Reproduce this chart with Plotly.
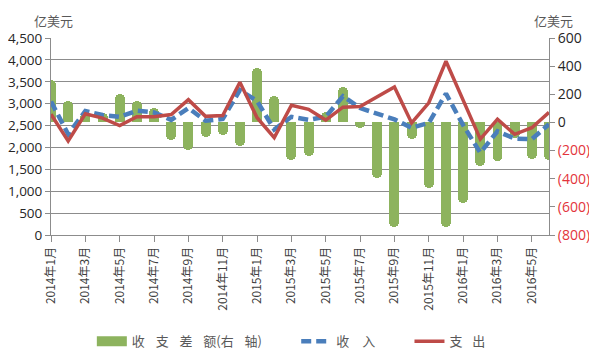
import plotly.graph_objects as go

months = [f"{y}年{m}月" for y, m in
          [(2014, m) for m in range(1, 13)] + [(2015, m) for m in range(1, 13)] + [(2016, m) for m in range(1, 7)]]

income = [3050, 2300, 2830, 2740, 2700, 2840, 2800, 2630, 2900, 2610,
          2650, 3310, 3060, 2410, 2700, 2630, 2700, 3170, 2900, 2760,
          2640, 2450, 2560, 3230, 2510, 1880, 2370, 2200, 2190, 2530]
expense = [2760, 2150, 2770, 2670, 2500, 2700, 2700, 2750, 3090, 2710,
           2730, 3490, 2680, 2225, 2965, 2870, 2625, 2920, 2935, 3160,
           3380, 2560, 3020, 3970, 3080, 2190, 2645, 2300, 2450, 2800]
balance = [300, 150, 65, 70, 205, 150, 100, -125, -195, -100,
           -90, -165, 390, 185, -265, -240, 75, 255, -40, -395,
           -740, -120, -465, -745, -575, -310, -275, -110, -260, -265]

left_ticks = list(range(0, 4501, 500))
right_ticks = [600, 400, 200, 0, -200, -400, -600, -800]

FONT = "Open Sans, Noto Sans CJK SC, sans-serif"
CJK = "Noto Sans CJK SC, sans-serif"
GRID = "#8C8C8C"
GREEN = "#8DB35E"
G1 = "\u2002\u2004"          # gap between legend glyphs
TRAIL = "\u2003\u2003\u2005"  # space after a legend entry

def rlabel(v):
    if v < 0:
        return f"<span style='color:#E3343B'>({abs(v)})</span>"
    return str(v)

fig = go.Figure()
fig.add_trace(go.Bar(
    x=months, y=balance, name="收支差额(右轴)", showlegend=False,
    marker=dict(color=GREEN, cornerradius=5, line=dict(width=0)),
    width=0.58, xaxis="x", yaxis="y",
))
# legend key for the balance bars (no data, legend only)
fig.add_trace(go.Scatter(
    x=[None], y=[None], mode="lines",
    name="收" + G1 + "支" + G1 + "差" + G1 + "额(右" + G1 + "轴)" + TRAIL,
    line=dict(color=GREEN, width=16), xaxis="x", yaxis="y",
))
fig.add_trace(go.Scatter(
    x=months, y=income, name="收\u2003入" + TRAIL, mode="lines",
    line=dict(color="#4A7EBB", width=4.5, dash="10px,5px"),
    xaxis="x", yaxis="y2",
))
fig.add_trace(go.Scatter(
    x=months, y=expense, name="支\u2002\u2005出", mode="lines",
    line=dict(color="#BE4B48", width=3.5),
    xaxis="x", yaxis="y2",
))

# the page body has an 8px default margin, so the figure is 8px smaller
fig.update_layout(
    width=589, height=347,
    margin=dict(l=43, r=48, t=30, b=120, autoexpand=False),
    paper_bgcolor="white", plot_bgcolor="white",
    font=dict(family=FONT, color="#262626", size=14),
    showlegend=True,
    legend=dict(orientation="h", x=0.082, xanchor="left", y=-0.54, yanchor="middle",
                font=dict(family=CJK, size=13, color="#595959"),
                bgcolor="rgba(0,0,0,0)", traceorder="normal"),
    bargap=0,
    xaxis=dict(
        type="category", categoryorder="array", categoryarray=months,
        range=[0, len(months) - 1],
        tickvals=months[::2], ticktext=months[::2],
        tickangle=-90, tickfont=dict(family=CJK, size=12, color="#404040"),
        ticks="outside", ticklen=6, tickcolor=GRID,
        showline=True, linecolor=GRID, linewidth=1,
        showgrid=False, zeroline=False,
    ),
    yaxis=dict(
        side="right", range=[-800, 600],
        tickvals=right_ticks, ticktext=[rlabel(v) for v in right_ticks],
        ticks="outside", ticklen=5, tickcolor=GRID,
        showline=True, linecolor=GRID, linewidth=1,
        showgrid=False, zeroline=False,
        tickfont=dict(family=FONT, size=14, color="#262626"),
    ),
    yaxis2=dict(
        overlaying="y", side="left", range=[0, 4500],
        tickvals=left_ticks, tickformat=",",
        ticks="outside", ticklen=5, tickcolor=GRID,
        showline=True, linecolor=GRID, linewidth=1,
        showgrid=True, gridcolor=GRID, gridwidth=1, zeroline=False,
        tickfont=dict(family=FONT, size=13.5, color="#262626"),
    ),
    annotations=[
        dict(text="亿美元", xref="paper", yref="paper", x=0.005, y=1.0, yshift=18,
             xanchor="center", yanchor="middle", showarrow=False,
             font=dict(family=CJK, size=13, color="#595959")),
        dict(text="亿美元", xref="paper", yref="paper", x=1.01, y=1.0, yshift=18,
             xanchor="center", yanchor="middle", showarrow=False,
             font=dict(family=CJK, size=13, color="#595959")),
    ],
)

fig.write_html("out.html")
